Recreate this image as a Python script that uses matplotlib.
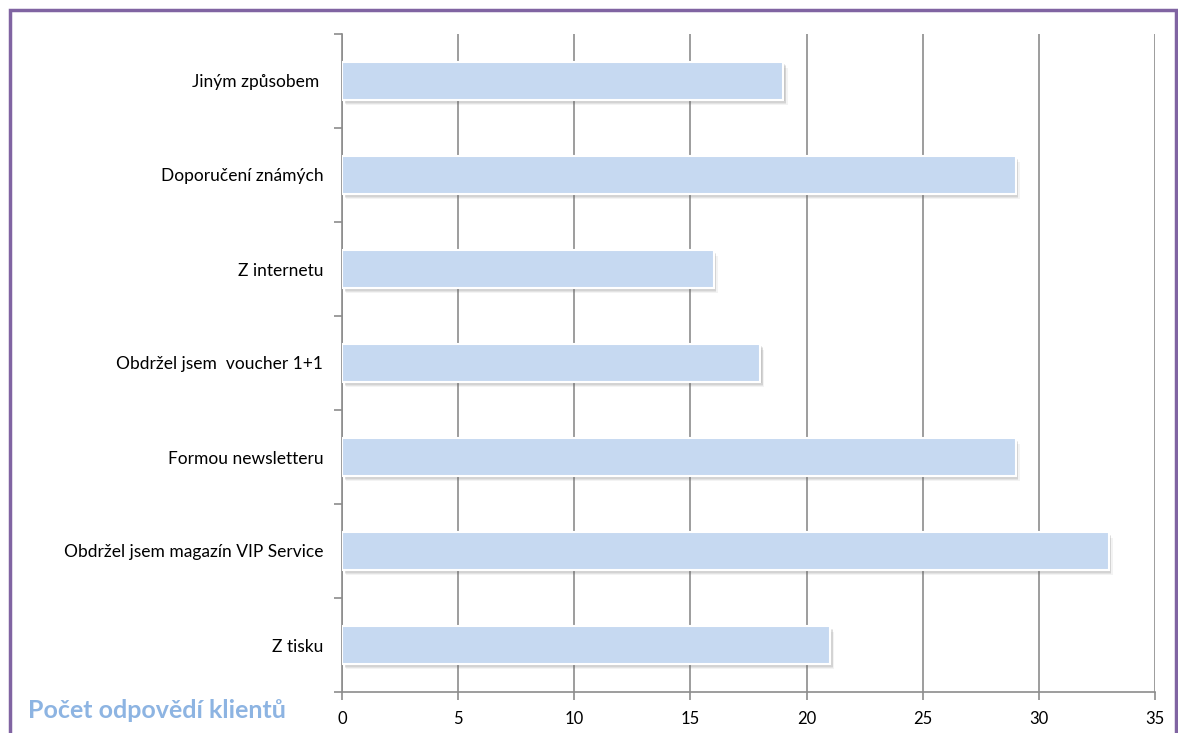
import matplotlib
matplotlib.use("Agg")
import matplotlib.pyplot as plt
from matplotlib.patches import Rectangle
import matplotlib.patheffects as pe
import numpy as np

categories = [
    "Z tisku",
    "Obdržel jsem magazín VIP Service",
    "Formou newsletteru",
    "Obdržel jsem  voucher 1+1",
    "Z internetu",
    "Doporučení známých",
    "Jiným způsobem ",
]
values = [21, 33, 29, 18, 16, 29, 19]
x_ticks = [0, 5, 10, 15, 20, 25, 30, 35]
title = "Počet odpovědí klientů"

W, H = 1178, 733
fig = plt.figure(figsize=(W / 100, H / 100), dpi=100)
fig.patch.set_facecolor("white")

# axes placement in pixels
left_px, right_px, top_px, bottom_px = 342, 1155, 34, 692
ax = fig.add_axes([left_px / W, 1 - bottom_px / H,
                   (right_px - left_px) / W, (bottom_px - top_px) / H])

font = ["Lato", "DejaVu Sans"]
grid_c = "#8c8c8c"

y = np.arange(len(categories))
bars = ax.barh(y, values, height=0.4, color="#C6D9F1", edgecolor="white",
               linewidth=1.5, zorder=3)
# soft drop shadow built from a few faint offset layers
shadow = [pe.SimplePatchShadow(offset=(dx, -dy), shadow_rgbFace="#606060", alpha=a)
          for dx, dy, a in [(1, 1, 0.12), (2, 2, 0.12), (2, 3, 0.1), (3, 4, 0.07)]]
for b in bars:
    b.set_path_effects(shadow + [pe.Normal()])

ax.set_xlim(0, 35)
ax.set_ylim(-0.5, len(categories) - 0.5)
ax.set_xticks(x_ticks)
ax.set_xticklabels([str(t) for t in x_ticks], fontsize=12, family=font)
ax.set_yticks(y)
ax.set_yticklabels(categories, fontsize=12.5, family=font)
ax.set_yticks(np.arange(len(categories) + 1) - 0.5, minor=True)
ax.tick_params(axis="y", which="major", length=0, pad=13.5)
ax.tick_params(axis="y", which="minor", length=6, color=grid_c, width=1.2)
ax.tick_params(axis="x", which="major", length=6, color=grid_c, width=1.2, pad=8)

ax.xaxis.grid(True, color=grid_c, linewidth=1.2, zorder=0)
ax.set_axisbelow(True)
for s in ["top", "right"]:
    ax.spines[s].set_visible(False)
for s in ["left", "bottom"]:
    ax.spines[s].set_color(grid_c)
    ax.spines[s].set_linewidth(1.2)

fig.text(28 / W, 1 - 711 / H, title, fontsize=18, fontweight="bold",
         color="#8DB4E2", family=font, va="center", ha="left")

# purple frame around the chart area (bottom edge lies below the canvas)
fig.patches.append(Rectangle((9.5 / W, -0.05), (1175.5 - 9.5) / W,
                             1.05 - 9.5 / H, transform=fig.transFigure,
                             fill=False, edgecolor="#8064A2", linewidth=2.5))

fig.savefig("out.png", dpi=100)
